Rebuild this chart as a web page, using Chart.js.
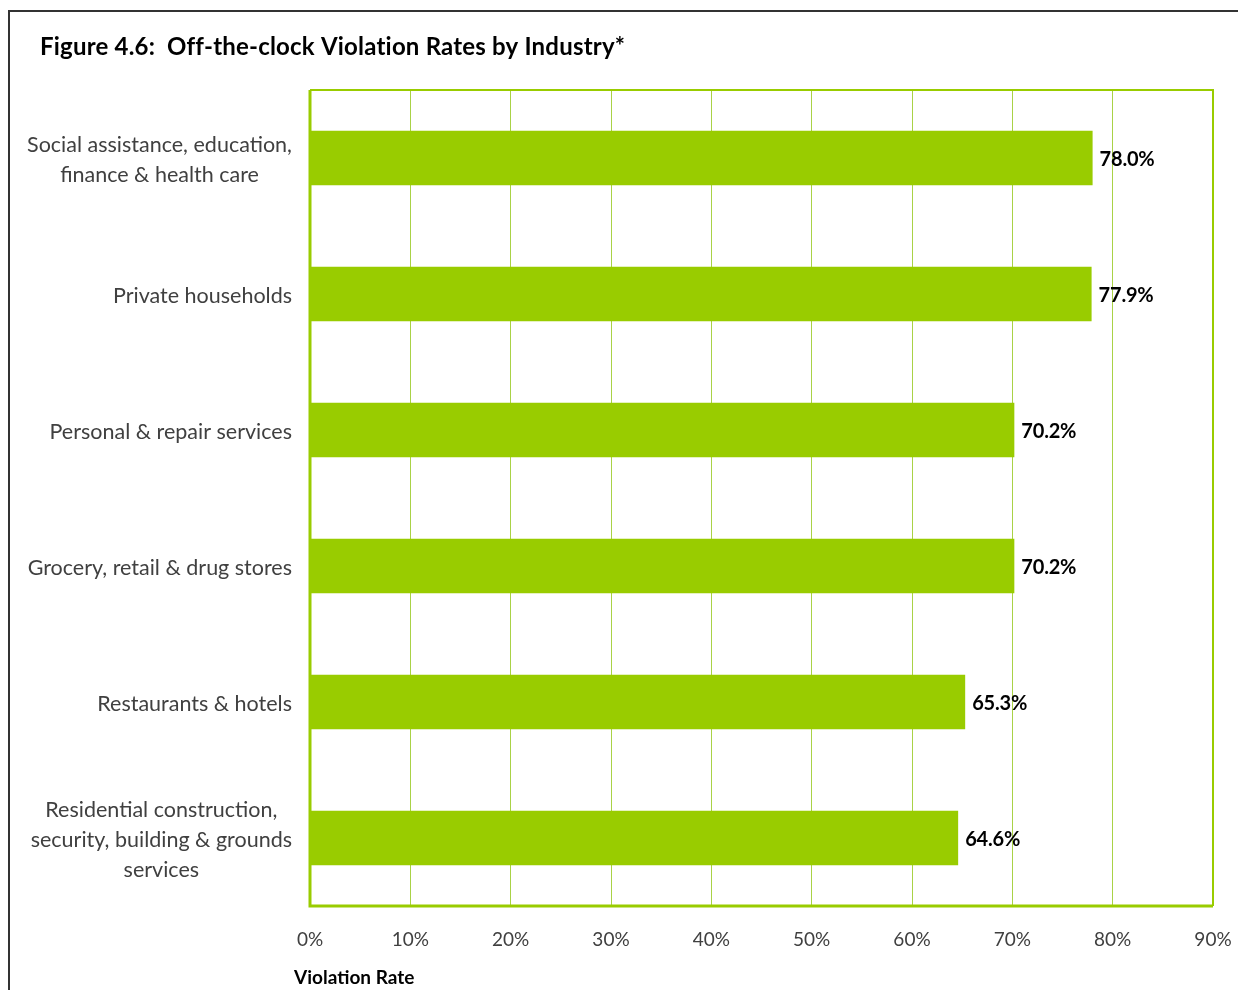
<!DOCTYPE html>
<html>
<head>
<meta charset="utf-8">
<script src="https://cdn.jsdelivr.net/npm/chart.js@4.4.1/dist/chart.umd.min.js"></script>
<style>
  body { margin: 0; background: #fff; }
  #wrap { position: relative; width: 1238px; height: 990px; }
</style>
</head>
<body>
<div id="wrap"><canvas id="mychart" width="1238" height="990"></canvas></div>
<script>
//industries, top to bottom
let industries = [
  ["Social assistance, education,", "finance & health care"],
  "Private households",
  "Personal & repair services",
  "Grocery, retail & drug stores",
  "Restaurants & hotels",
  ["Residential construction,", "security, building & grounds", "services"],
];

//off-the-clock violation rate, percent
let rates = [78.0, 77.9, 70.2, 70.2, 65.3, 64.6];

let rateLabels = ["78.0%", "77.9%", "70.2%", "70.2%", "65.3%", "64.6%"];

let figureTitle = "Figure 4.6:  Off-the-clock Violation Rates by Industry*";
let axisTitle = "Violation Rate";

const green = "#99cc00";
const gridGreen = "#a9d246";
const labelFont = "Lato, 'Open Sans', sans-serif";

//frame, title, category labels, plot border and value labels
const extras = {
  id: "extras",
  beforeDraw(chart) {
    let ctx = chart.ctx;
    ctx.save();
    ctx.strokeStyle = "#333";
    ctx.lineWidth = 2;
    ctx.strokeRect(9, 11, 1400, 1200);
    ctx.fillStyle = "#000";
    ctx.font = "bold 24px " + labelFont;
    ctx.letterSpacing = "0.2px";
    ctx.textBaseline = "middle";
    ctx.fillText(figureTitle, 40, 47);
    ctx.letterSpacing = "0px";
    ctx.font = "bold 19px " + labelFont;
    ctx.fillText(axisTitle, 294, 978);
    ctx.restore();
  },
  afterDraw(chart) {
    //multi-line labels: lines centred on each other, block flush right
    let ctx = chart.ctx;
    let yScale = chart.scales.y;
    let right = chart.chartArea.left - 18;
    ctx.save();
    ctx.fillStyle = "#404040";
    ctx.font = "21.5px " + labelFont;
    ctx.textBaseline = "middle";
    ctx.textAlign = "center";
    industries.forEach((label, i) => {
      let lines = Array.isArray(label) ? label : [label];
      let widest = Math.max(...lines.map((l) => ctx.measureText(l).width));
      let cx = right - widest / 2;
      let cy = yScale.getPixelForTick(i) + 2;
      let lh = 30;
      lines.forEach((l, j) => {
        ctx.fillText(l, cx, cy + (j - (lines.length - 1) / 2) * lh);
      });
    });
    ctx.restore();
  },
  afterDatasetsDraw(chart) {
    let ctx = chart.ctx;
    let a = chart.chartArea;
    ctx.save();
    ctx.strokeStyle = green;
    ctx.lineWidth = 2;
    ctx.beginPath();
    ctx.moveTo(a.left, a.top);
    ctx.lineTo(a.right, a.top);
    ctx.lineTo(a.right, a.bottom);
    ctx.stroke();
    ctx.lineWidth = 3;
    ctx.beginPath();
    ctx.moveTo(a.left, a.top);
    ctx.lineTo(a.left, a.bottom);
    ctx.lineTo(a.right, a.bottom);
    ctx.stroke();

    ctx.fillStyle = "#000";
    ctx.font = "bold 20px " + labelFont;
    ctx.letterSpacing = "-0.2px";
    ctx.textBaseline = "middle";
    chart.getDatasetMeta(0).data.forEach((bar, i) => {
      ctx.fillText(rateLabels[i], bar.x + 7, bar.y + 2);
    });
    ctx.restore();
  },
};

let data = {
  labels: industries,
  datasets: [
    {
      data: rates,
      backgroundColor: green,
      borderWidth: 0,
      categoryPercentage: 1,
      barPercentage: 0.4,
    },
  ],
};

let options = {
  indexAxis: "y",
  responsive: false,
  animation: false,
  layout: { padding: { top: 90, right: 25, left: 0, bottom: 0 } },
  plugins: {
    legend: { display: false },
    tooltip: { enabled: false },
  },
  scales: {
    x: {
      min: 0,
      max: 90,
      afterFit: (scale) => {
        scale.height = 84;
        scale.paddingLeft = 0;
        scale.paddingRight = 0;
      },
      border: { display: false },
      grid: { color: gridGreen, lineWidth: 1, drawTicks: false },
      ticks: {
        stepSize: 10,
        padding: 22,
        color: "#404040",
        font: { family: labelFont, size: 19 },
        callback: (v) => v + "%",
      },
    },
    y: {
      afterFit: (scale) => { scale.width = 310; },
      border: { display: false },
      grid: { display: false, drawTicks: false },
      ticks: { display: false },
    },
  },
};

const config = {
  type: "bar",
  data: data,
  options: options,
  plugins: [extras],
};
let violationChart = new Chart(document.getElementById("mychart"), config);
</script>
</body>
</html>
